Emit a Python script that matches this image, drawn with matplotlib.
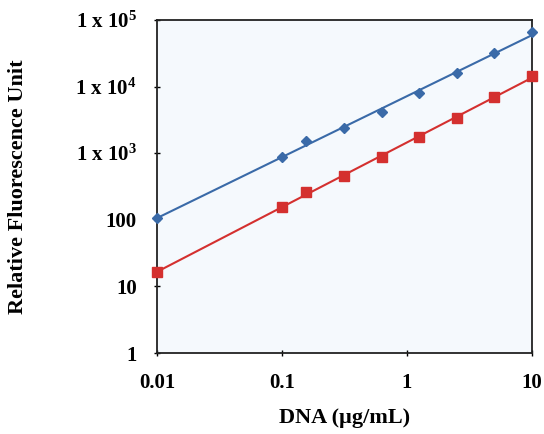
import numpy as np
import matplotlib.pyplot as plt

plt.rcParams['font.family'] = ['Liberation Serif', 'DejaVu Serif']
plt.rcParams['mathtext.fontset'] = 'custom'
plt.rcParams['mathtext.rm'] = 'Liberation Serif:bold'
plt.rcParams['mathtext.it'] = 'Liberation Serif:bold'
plt.rcParams['mathtext.bf'] = 'Liberation Serif:bold'

# data
dna = [0.01, 0.1, 0.156, 0.3125, 0.625, 1.25, 2.5, 5, 10]
blue_rfu = [107, 875, 1520, 2400, 4150, 8000, 16000, 32000, 66000]
red_rfu = [16.5, 155, 262, 455, 875, 1750, 3400, 6900, 14500]
yticks = [1, 10, 100, 1e3, 1e4, 1e5]
ylabels = ['1', '10', '100', r'1 x 10$^{3}$', r'1 x 10$^{4}$', r'1 x 10$^{5}$']
xticks = [0.01, 0.1, 1, 10]
xlabels = ['0.01', '0.1', '1', '10']

fig = plt.figure(figsize=(5.44, 4.34), dpi=100)
ax = fig.add_axes([0.2886, 0.1866, 0.6894, 0.7674])
ax.set_facecolor('#f5f9fd')

xs = np.array([0.01, 10])
for y, col, mk, ms in [(blue_rfu, '#3a6aa8', 'D', 5), (red_rfu, '#d4302f', 's', 7)]:
    # power-law trend line
    k, b = np.polyfit(np.log10(dna), np.log10(y), 1)
    ax.plot(xs, 10 ** (b + k * np.log10(xs)), color=col, lw=1.5, zorder=2)
    ax.plot(dna, y, ls='none', marker=mk, ms=ms, color=col, mec=col, zorder=3, clip_on=False)

ax.set_xscale('log')
ax.set_yscale('log')
ax.set_xlim(0.01, 10)
ax.set_ylim(1, 1e5)
ax.set_xticks(xticks)
ax.set_xticklabels(xlabels)
ax.set_yticks(yticks)
ax.set_yticklabels(ylabels)
ax.minorticks_off()
ax.tick_params(direction='inout', length=5, width=1, labelsize=15, pad=12)
for t in ax.get_xticklabels() + ax.get_yticklabels():
    t.set_fontweight('bold')
for s in ax.spines.values():
    s.set_linewidth(1.3)
    s.set_color('#222222')

ax.set_xlabel('DNA (µg/mL)', fontsize=16, fontweight='bold')
ax.set_ylabel('Relative Fluorescence Unit', fontsize=16, fontweight='bold')
ax.xaxis.set_label_coords(0.5, -0.165)
ax.yaxis.set_label_coords(-0.345, 0.5)

fig.savefig('out.png', dpi=100)
